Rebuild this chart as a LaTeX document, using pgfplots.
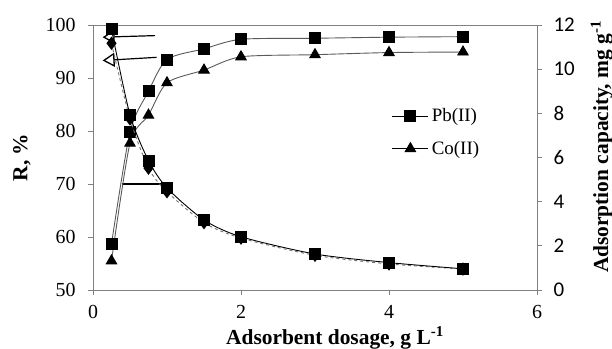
\documentclass[border=0pt]{standalone}
\usepackage{fontspec}
\setmainfont{Liberation Serif}
\newfontfamily\carlito{Carlito}
\usepackage{pgfplots}
\pgfplotsset{compat=1.18}
\usetikzlibrary{arrows.meta}

\pgfplotstableread{
x    pbR   coR   pbq   coq
0.25 58.7  55.5  11.80 11.17
0.5  79.8  77.7  7.93  7.75
0.75 87.5  83.0  5.86  5.52
1    93.5  89.1  4.62  4.45
1.5  95.5  91.5  3.17  3.05
2    97.3  94.0  2.41  2.35
3    97.5  94.4  1.63  1.57
4    97.7  94.8  1.24  1.18
5    97.8  94.9  0.96  0.95
}\data

\pgfplotsset{
  common/.style={
    at={(0,0)}, anchor=south west, scale only axis,
    width=444bp, height=265bp,
    xmin=0, xmax=6,
    axis line style={black!50, line width=0.8bp},
    tick style={black!50, line width=0.8bp},
    tick align=outside, major tick length=5bp,
    /pgf/number format/assume math mode=true,
  },
  myline/.style={black!65, line width=0.9bp, smooth, tension=0.45},
}

\begin{document}
\begin{tikzpicture}
\useasboundingbox (-93bp,-59bp) rectangle (519bp,290bp);
\begin{axis}[common,
  ymin=50, ymax=100,
  xtick={0,2,4,6}, ytick={50,60,...,100},
  xtick pos=bottom, ytick pos=left,
  ticklabel style={font=\fontsize{20}{24}\selectfont},
  xticklabel style={yshift=-7bp},
  yticklabel style={xshift=-9bp},
  xlabel={\textbf{Adsorbent dosage, g L\textsuperscript{-1}}},
  every axis x label/.style={at={(axis description cs:0.545,-0.204)}, anchor=base, font=\fontsize{21.5}{24}\selectfont},
  ylabel={\textbf{R, \%}},
  every axis y label/.style={at={(axis description cs:-0.16,0.5)}, anchor=center, rotate=90, font=\fontsize{21.5}{24}\selectfont},
  legend style={at={(axis description cs:0.673,0.595)}, anchor=west, draw=none, fill=none,
    font=\fontsize{19}{22}\selectfont, row sep=14bp, inner sep=0pt,
    nodes={inner xsep=3bp}},
  legend cell align=left,
  legend image code/.code={\draw[#1, black, line width=0.8bp, mark=none] (0bp,0bp) -- (36bp,0bp);
    \draw[#1, black, only marks] plot coordinates {(18bp,0bp)};},
]
% arrows
\addplot[black, line width=1.2bp, -{Triangle[open, length=12bp, width=14bp, line width=1.3bp]}, forget plot]
  coordinates {(0.84,98.0) (0.13,97.7)};
\addplot[black, line width=1.2bp, -{Triangle[open, length=12bp, width=14bp, line width=1.3bp]}, forget plot]
  coordinates {(0.86,93.9) (0.13,93.3)};
\addplot[black, line width=1.2bp, forget plot]
  coordinates {(0.39,70.0) (0.95,70.0)};
% R curves
\addplot[myline, mark=square*, mark size=5.5bp, mark options={black, fill=black, solid}]
  table[x=x, y=pbR] {\data};
\addlegendentry{Pb(II)}
\addplot[myline, mark=triangle*, mark size=6bp, mark options={black, fill=black, solid}]
  table[x=x, y=coR] {\data};
\addlegendentry{Co(II)}
\end{axis}

\begin{axis}[common,
  ymin=0, ymax=12,
  ytick={0,2,...,12},
  axis y line*=right, axis x line=none,
  yticklabel style={font=\carlito\fontsize{21}{24}\selectfont, xshift=8bp},
  ylabel={\textbf{Adsorption capacity, mg g\textsuperscript{-1}}},
  every axis y label/.style={at={(axis description cs:1.146,0.54)}, anchor=center, rotate=90, font=\fontsize{21.5}{25}\selectfont},
]
\addplot[black!55, dashed, line width=0.9bp, smooth, tension=0.45, mark=diamond*, mark size=6bp, mark options={black, fill=black, solid}]
  table[x=x, y=coq] {\data};
\addplot[black, line width=0.9bp, smooth, tension=0.45, mark=square*, mark size=5.5bp, mark options={black, fill=black, solid}]
  table[x=x, y=pbq] {\data};
\end{axis}
\end{tikzpicture}
\end{document}
